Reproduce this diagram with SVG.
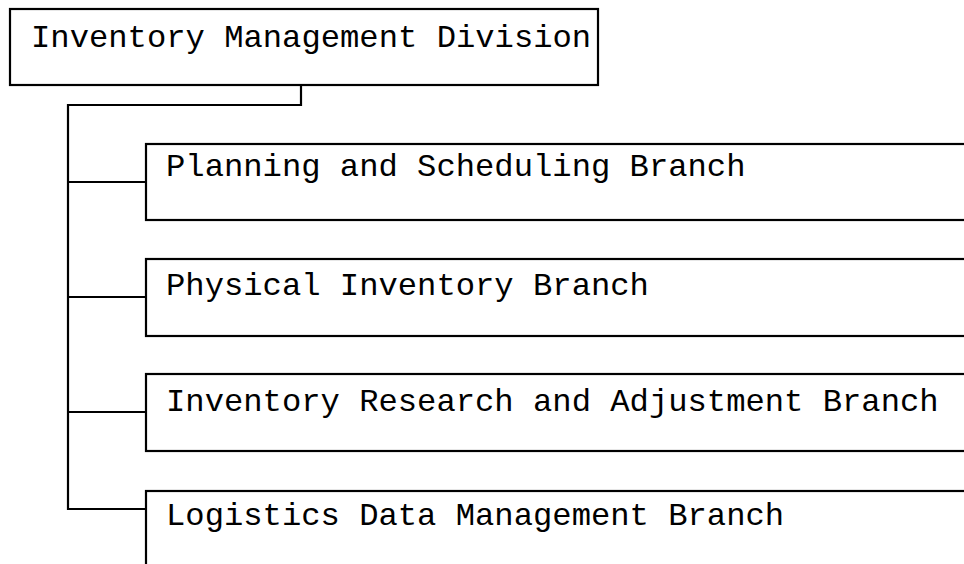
<svg xmlns="http://www.w3.org/2000/svg" width="964" height="564" viewBox="0 0 964 564">
<style>
.box{fill:#fff;stroke:#000;stroke-width:2.2}
.lbl{font-family:"Liberation Mono","Courier New",monospace;font-size:32.2px;fill:#000}
.conn{fill:none;stroke:#000;stroke-width:2.2}
</style>
<rect width="964" height="564" fill="#fff"/>
<g id="connectors">
<path class="conn" d="M301,85 V105 H68 V509 H146"/>
<path class="conn" d="M68,182 H146 M68,297 H146 M68,412 H146"/>
</g>
<g id="division">
<rect class="box" x="10" y="9" width="588" height="76"/>
<text class="lbl" x="31" y="47">Inventory Management Division</text>
</g>
<g id="planning">
<rect class="box" x="146" y="144" width="830" height="76"/>
<text class="lbl" x="166" y="176">Planning and Scheduling Branch</text>
</g>
<g id="physical">
<rect class="box" x="146" y="259" width="830" height="77"/>
<text class="lbl" x="166" y="295">Physical Inventory Branch</text>
</g>
<g id="research">
<rect class="box" x="146" y="374" width="830" height="77"/>
<text class="lbl" x="166" y="411">Inventory Research and Adjustment Branch</text>
</g>
<g id="logistics">
<rect class="box" x="146" y="491" width="830" height="90"/>
<text class="lbl" x="166" y="525">Logistics Data Management Branch</text>
</g>
</svg>
